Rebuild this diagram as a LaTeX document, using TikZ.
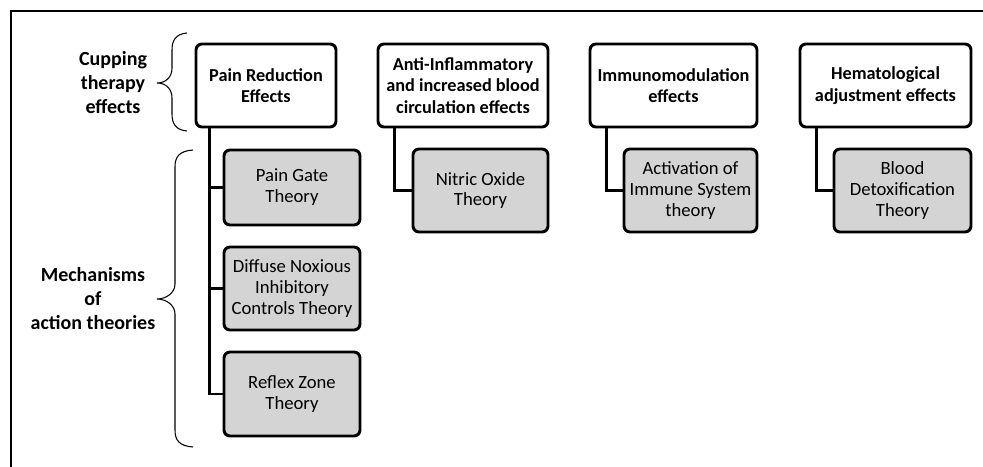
\documentclass[tikz,border=0pt]{standalone}
\usepackage{fontspec}
\setmainfont{Carlito}
\usetikzlibrary{calc}
\definecolor{boxgray}{HTML}{D4D4D4}
% curly brace opening to the left: end x, spine x, tip x, top y, tip y, bottom y
\newcommand{\curlybrace}[6]{\draw[line width=0.8pt] (#1,#4) .. controls (#2+4,#4+1) and (#2,#4+7) .. (#2,#4+17) -- (#2,#5-15) .. controls (#2,#5-6) and (#3+9,#5) .. (#3,#5) .. controls (#3+9,#5) and (#2,#5+6) .. (#2,#5+15) -- (#2,#6-17) .. controls (#2,#6-7) and (#2+4,#6-1) .. (#1,#6);}
\tikzset{
	effect/.style={draw, rounded corners=4.5pt, line width=2.2pt, fill=white, align=center, inner sep=0pt, font=\fontsize{13.7}{16}\selectfont\bfseries},
	theory/.style={effect, fill=boxgray, font=\fontsize{14}{15.7}\selectfont},
	link/.style={line width=2.2pt},
	side/.style={align=center, font=\fontsize{15}{18}\selectfont\bfseries},
}

\begin{document}
\begin{tikzpicture}[x=0.75pt, y=-0.75pt]
		%%%%% START %%%%%
		\useasboundingbox (0,0) rectangle (983,467);
		
		\draw[line width=2.2pt] (11,467) -- (11,11) -- (983,11);
		
		%%%%% EFFECTS %%%%%
		\node[effect, minimum width=105pt, minimum height=62.25pt] (pr) at (266,85.5) {Pain Reduction\\Effects};
		\node[effect, minimum width=127.5pt, minimum height=62.25pt] (ai) at (463,85.5) {Anti-Inflammatory\\and increased blood\\circulation effects};
		\node[effect, minimum width=125.25pt, minimum height=62.25pt] (im) at (673.5,85.5) {Immunomodulation\\effects};
		\node[effect, minimum width=128.25pt, minimum height=62.25pt] (he) at (885.5,85.5) {Hematological\\adjustment effects};
		
		%%%%% THEORIES %%%%%
		\node[theory, minimum width=102pt, minimum height=56.25pt] (pg) at (292,187.5) {Pain Gate\\Theory};
		\node[theory, minimum width=102pt, minimum height=62.25pt] (dn) at (292,288.5) {Diffuse Noxious\\Inhibitory\\Controls Theory};
		\node[theory, minimum width=102pt, minimum height=63pt] (rz) at (292,394) {Reflex Zone\\Theory};
		\node[theory, minimum width=101.25pt, minimum height=62.25pt] (no) at (480.5,190.5) {Nitric Oxide\\Theory};
		\node[theory, minimum width=99.75pt, minimum height=62.25pt] (ac) at (690.5,190.5) {Activation of\\Immune System\\theory};
		\node[theory, minimum width=102.75pt, minimum height=62.25pt] (bd) at (902.5,190.5) {Blood\\Detoxification\\Theory};
		
		%%%%% LINKS %%%%%
		\draw[link] ([xshift=11.25pt]pr.south west) |- (rz.west);
		\draw[link] ([xshift=11.25pt]pr.south west |- pg.west) -- (pg.west);
		\draw[link] ([xshift=11.25pt]pr.south west |- dn.west) -- (dn.west);
		\draw[link] ([xshift=13.5pt]ai.south west) |- (no.west);
		\draw[link] ([xshift=13.5pt]im.south west) |- (ac.west);
		\draw[link] ([xshift=13.5pt]he.south west) |- (bd.west);
		
		%%%%% BRACES %%%%%
		\node[side] (cte) at (113,83) {Cupping\\therapy\\effects};
		\node[side] (mat) at (93,299) {Mechanisms\\of\\action theories};
		\curlybrace{187}{172}{157}{33}{83}{131}
		\curlybrace{193}{175}{157}{150}{299}{447}
		
		%%%%% END %%%%%
	\end{tikzpicture}
\end{document}
